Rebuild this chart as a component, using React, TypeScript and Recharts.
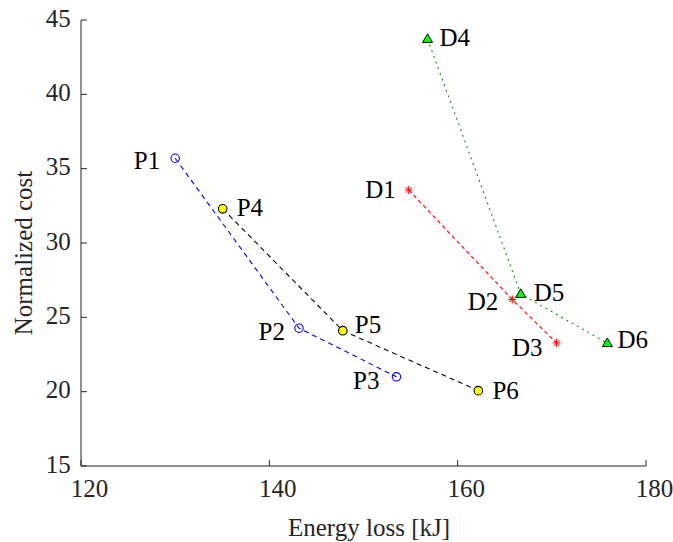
import React from 'react';
import { ScatterChart, Scatter, XAxis, YAxis } from 'recharts';

// ---- data ----
const blueNames = ['P1', 'P2', 'P3'];
const blueEnergy = [130.0, 143.15, 153.5];
const blueCost = [35.7, 24.27, 21.0];

const blackNames = ['P4', 'P5', 'P6'];
const blackEnergy = [135.05, 147.8, 162.2];
const blackCost = [32.3, 24.1, 20.07];

const redNames = ['D1', 'D2', 'D3'];
const redEnergy = [154.8, 165.8, 170.5];
const redCost = [33.57, 26.2, 23.28];

const greenNames = ['D4', 'D5', 'D6'];
const greenEnergy = [156.8, 166.7, 175.9];
const greenCost = [43.72, 26.57, 23.26];

const xTicks = [120, 140, 160, 180];
const yTicks = [15, 20, 25, 30, 35, 40, 45];
const xTitle = 'Energy loss [kJ]';
const yTitle = 'Normalized cost';

// ---- label placement (anchor, dx, dy) ----
const labelPlacement: Record<string, [string, number, number]> = {
  P1: ['end', -15, 2],
  P2: ['end', -14, 4],
  P3: ['end', -17, 4],
  P4: ['start', 14, -1],
  P5: ['start', 12, -6],
  P6: ['start', 14, 0],
  D1: ['end', -13, 0],
  D2: ['end', -14, 2],
  D3: ['end', -14, 5],
  D4: ['start', 12, -1],
  D5: ['start', 13, -1],
  D6: ['start', 10, -4],
};

const build = (names: string[], xs: number[], ys: number[]) =>
  names.map((n, i) => ({ name: n, energy: xs[i], cost: ys[i] }));

const blueData = build(blueNames, blueEnergy, blueCost);
const blackData = build(blackNames, blackEnergy, blackCost);
const redData = build(redNames, redEnergy, redCost);
const greenData = build(greenNames, greenEnergy, greenCost);

// ---- layout / style ----
const W = 673;
const H = 542;
const FONT = '"Liberation Serif", "Times New Roman", serif';
const AXIS_COLOR = '#262626';
const FS = 25;
const TICK_LEN = 6;
const X_MARGIN = 10;
const Y_MARGIN = 10;
const MARGIN = { top: 20, right: 27, left: 0, bottom: 0 };
const Y_AXIS_W = 81;
const X_AXIS_H = 76;
const PLOT_LEFT = MARGIN.left + Y_AXIS_W;
const PLOT_RIGHT = W - MARGIN.right;
const PLOT_TOP = MARGIN.top;
const PLOT_BOTTOM = H - MARGIN.bottom - X_AXIS_H;

const XTick = (props: any) => {
  const { x, y, payload } = props;
  const axisY = y - X_MARGIN;
  return (
    <g>
      <line x1={x} y1={axisY} x2={x} y2={axisY - TICK_LEN} stroke={AXIS_COLOR} strokeWidth={1} />
      <text x={x + 8.5} y={axisY + 31} textAnchor="middle" fill={AXIS_COLOR} fontFamily={FONT} fontSize={FS}>
        {payload.value}
      </text>
    </g>
  );
};

const YTick = (props: any) => {
  const { x, y, payload } = props;
  const axisX = x + Y_MARGIN;
  return (
    <g>
      <line x1={axisX} y1={y} x2={axisX + TICK_LEN} y2={y} stroke={AXIS_COLOR} strokeWidth={1} />
      <text x={axisX - 10.3} y={y + 6.8} textAnchor="end" fill={AXIS_COLOR} fontFamily={FONT} fontSize={FS}>
        {payload.value}
      </text>
    </g>
  );
};

const PointLabel = ({ cx, cy, name }: { cx: number; cy: number; name: string }) => {
  const p = labelPlacement[name] || ['start', 12, 0];
  return (
    <text x={cx + p[1]} y={cy + p[2] + 8.3} textAnchor={p[0] as any} fill="#000" fontFamily={FONT} fontSize={FS}>
      {name}
    </text>
  );
};

const makeShape = (kind: string) => (props: any) => {
  const { cx, cy, payload } = props;
  if (cx == null || cy == null) return <g />;
  let marker: React.ReactNode = null;
  if (kind === 'openCircle') {
    marker = <circle cx={cx} cy={cy} r={4.2} fill="none" stroke="#0000ff" strokeWidth={1.1} />;
  } else if (kind === 'yellowCircle') {
    marker = <circle cx={cx} cy={cy} r={4.3} fill="#ffff00" stroke="#000" strokeWidth={1.1} />;
  } else if (kind === 'asterisk') {
    const r = 4;
    const d = r * 0.7071;
    marker = (
      <g stroke="#ff0000" strokeWidth={1}>
        <line x1={cx - r} y1={cy} x2={cx + r} y2={cy} />
        <line x1={cx} y1={cy - r} x2={cx} y2={cy + r} />
        <line x1={cx - d} y1={cy - d} x2={cx + d} y2={cy + d} />
        <line x1={cx - d} y1={cy + d} x2={cx + d} y2={cy - d} />
      </g>
    );
  } else if (kind === 'triangle') {
    marker = (
      <polygon
        points={`${cx},${cy - 5.2} ${cx - 5},${cy + 3.4} ${cx + 5},${cy + 3.4}`}
        fill="#00ff00"
        stroke="#000"
        strokeWidth={1}
      />
    );
  }
  return (
    <g>
      {marker}
      <PointLabel cx={cx} cy={cy} name={payload.name} />
    </g>
  );
};

const XTitle = () => (
  <text x={(PLOT_LEFT + PLOT_RIGHT) / 2 + 5.5} y={PLOT_BOTTOM + 70} textAnchor="middle" fill={AXIS_COLOR} fontFamily={FONT} fontSize={FS}>
    {xTitle}
  </text>
);

const YTitle = () => {
  const cx = 32;
  const cy = (PLOT_TOP + PLOT_BOTTOM) / 2 + 10;
  return (
    <text x={cx} y={cy} transform={`rotate(-90, ${cx}, ${cy})`} textAnchor="middle" fill={AXIS_COLOR} fontFamily={FONT} fontSize={FS}>
      {yTitle}
    </text>
  );
};

export default function App() {
  return (
    <div style={{ position: 'absolute', left: 0, top: 0, width: W, height: H, background: '#fff' }}>
      <ScatterChart width={W} height={H} margin={MARGIN}>
        <XAxis
          type="number"
          dataKey="energy"
          domain={[120, 180]}
          ticks={xTicks}
          height={X_AXIS_H}
          tickSize={0}
          tickMargin={X_MARGIN}
          tickLine={false}
          tick={<XTick />}
          axisLine={{ stroke: AXIS_COLOR, strokeWidth: 1 }}
          label={<XTitle />}
        />
        <YAxis
          type="number"
          dataKey="cost"
          domain={[15, 45]}
          ticks={yTicks}
          width={Y_AXIS_W}
          tickSize={0}
          tickMargin={Y_MARGIN}
          tickLine={false}
          tick={<YTick />}
          axisLine={{ stroke: AXIS_COLOR, strokeWidth: 1 }}
          label={<YTitle />}
        />
        <Scatter
          data={blueData}
          isAnimationActive={false}
          line={{ stroke: '#0000ff', strokeWidth: 1.1, strokeDasharray: '5 4' }}
          lineType="joint"
          shape={makeShape('openCircle')}
        />
        <Scatter
          data={blackData}
          isAnimationActive={false}
          line={{ stroke: '#000000', strokeWidth: 1.1, strokeDasharray: '5 4' }}
          lineType="joint"
          shape={makeShape('yellowCircle')}
        />
        <Scatter
          data={redData}
          isAnimationActive={false}
          line={{ stroke: '#ff0000', strokeWidth: 1.1, strokeDasharray: '4 3' }}
          lineType="joint"
          shape={makeShape('asterisk')}
        />
        <Scatter
          data={greenData}
          isAnimationActive={false}
          line={{ stroke: '#1a8a1a', strokeWidth: 1.1, strokeDasharray: '2 4' }}
          lineType="joint"
          shape={makeShape('triangle')}
        />
      </ScatterChart>
    </div>
  );
}
